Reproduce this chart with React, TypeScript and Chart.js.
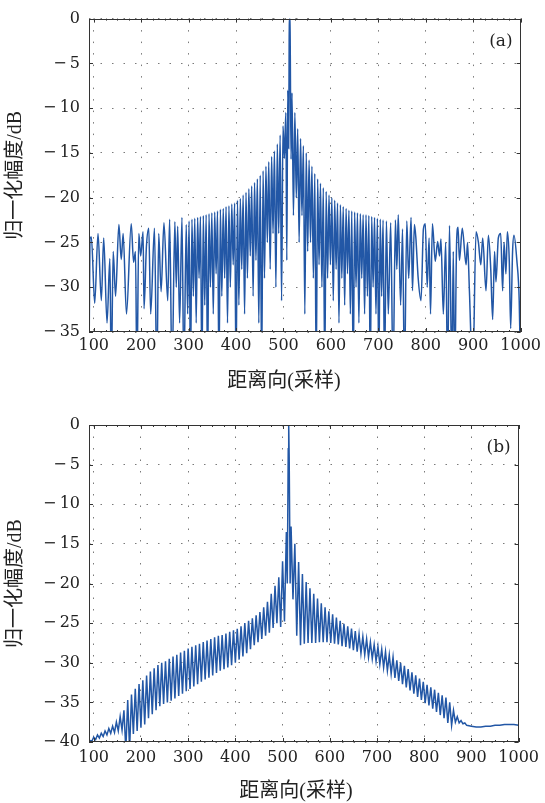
import React, { useEffect, useRef } from "react";
import { Chart, registerables } from "chart.js";

Chart.register(...registerables);

// ---------- data ----------
const xTicks = [100, 200, 300, 400, 500, 600, 700, 800, 900, 1000];
const yTicksA = [0, -5, -10, -15, -20, -25, -30, -35];
const yTicksB = [0, -5, -10, -15, -20, -25, -30, -35, -40];
const xTitle = "距离向(采样)";
const yTitle = "归一化幅度/dB";

// panel (a): range samples / normalized amplitude (dB)
const aX = [
  90, 92, 95, 102, 109, 116, 121, 128, 134, 137,
  141, 146, 153, 158, 162, 169, 179, 184, 188, 191,
  195, 199, 204, 206, 211, 216, 220, 228, 233, 237,
  242, 248, 256, 260, 265, 271, 274, 277, 281, 286,
  290, 295,
  298, 301, 304, 307, 310, 313, 316, 319, 322, 325,
  328, 331, 334, 337, 340, 343, 346, 349, 352, 355,
  358, 361, 364, 367, 370, 373, 376, 379, 382, 385,
  388, 391, 394, 397, 400, 403, 406, 409, 412, 415,
  418, 421, 424, 427, 430, 433, 436, 439, 442, 445,
  448, 451, 454, 457, 460, 463, 466, 469, 472, 475,
  478, 481, 484, 487, 490, 493, 496, 499, 502, 505,
  507, 509, 511,
  512, 513, 514, 516,
  518, 521, 524, 527, 530, 533, 536, 539, 542, 545,
  548, 551, 554, 557, 560, 563, 566, 569, 572, 575,
  578, 581, 584, 587, 590, 593, 596, 599, 602, 605,
  608, 611, 614, 617, 620, 623, 626, 629, 632, 635,
  638, 641, 644, 647, 650, 653, 656, 659, 662, 665,
  668, 671, 674, 677, 680, 683, 686, 689, 692, 695,
  698, 701, 704, 707, 710, 713,
  717, 721, 726, 731, 736, 739, 742, 747, 751, 755,
  760, 764, 769, 772, 776, 779, 784, 790, 795, 799,
  803, 807, 810, 814, 820, 825, 829, 832, 837, 842,
  846, 850, 855, 858, 861, 865, 868, 871, 877, 885,
  888, 892, 899, 906, 911, 916, 920, 927, 932, 937,
  941, 945, 948, 953, 958, 962, 965, 969, 972, 976,
  979, 983, 986, 992, 997, 1000,
];
const aY = [
  -40, -24.6, -24.4, -31.8, -24.0, -31.5, -24.5, -34.0, -26.8, -40,
  -26.0, -31.0, -23.0, -26.9, -24.0, -33.0, -22.9, -27.2, -26.0, -40,
  -24.0, -26.5, -23.8, -32.4, -25.5, -23.4, -33.0, -23.4, -40, -24.0,
  -30.5, -22.8, -31.5, -22.4, -40, -22.7, -30.0, -23.2, -34.0, -22.2,
  -40, -23.0,
  -33, -22.6, -40, -22.4, -31, -22.3, -34, -22.2, -29, -22.1,
  -40, -22.0, -32, -21.9, -40, -21.8, -30, -21.7, -33, -21.6,
  -28.5, -21.5, -40, -21.3, -31, -21.2, -29, -21.0, -34, -20.9,
  -30, -20.7, -27.5, -20.6, -40, -20.3, -32, -20.1, -28, -19.7,
  -33, -19.4, -29, -19.0, -26.5, -18.7, -31, -18.3, -27, -17.9,
  -34, -17.5, -40, -17.0, -29, -16.5, -25, -16.0, -28, -15.4,
  -24, -14.8, -30, -14.0, -24, -13.0, -31.5, -12.0, -15.6, -10.5,
  -27, -8.0, -14.5,
  -2.5, 0, -1.5, -15.7,
  -8.3, -22, -10.5, -20, -12.3, -25, -13.4, -22, -14.2, -33,
  -15.0, -26, -15.8, -25, -16.5, -29, -17.3, -40, -17.9, -27.5,
  -18.4, -30, -18.9, -40, -19.3, -29, -19.7, -27.5, -20.0, -31.5,
  -20.3, -28, -20.6, -34, -20.8, -29, -21.0, -32, -21.2, -28.5,
  -21.4, -33, -21.5, -40, -21.6, -30, -21.7, -34, -21.8, -29,
  -21.9, -33, -21.9, -31, -22.0, -40, -22.1, -30, -22.2, -33,
  -22.3, -40, -22.4, -31, -22.5, -40,
  -22.6, -33, -22.8, -40, -22.5, -28, -21.9, -32, -23.5, -40,
  -22.6, -29, -22.2, -30.4, -23.0, -24.4, -29, -31.5, -23.5, -22.9,
  -30, -24.5, -33, -22.9, -27.1, -24.9, -26.5, -24.6, -33, -25,
  -40, -23.1, -40, -26, -40, -25, -23.3, -27, -23.4, -27.5,
  -25, -30.4, -40, -23.8, -25, -27.5, -24.5, -30.4, -24.2, -28,
  -33.6, -26, -29.4, -24.5, -24.0, -30.4, -25, -28.5, -23.8, -27,
  -34.6, -26, -24.2, -27, -31.5, -40,
];

// panel (b)
const bX = [
  92, 96, 100, 104, 108, 112, 116, 120, 124, 128,
  132, 136, 140, 144, 148, 152, 156, 160, 164, 168,
  172, 176, 180, 184, 188, 192, 196, 200, 204, 208,
  212, 216, 220, 224, 228, 232, 236, 240, 244, 248,
  252, 256, 260, 264, 268, 272, 276, 280, 284, 288,
  292, 296, 300, 304, 308, 312, 316, 320, 324, 328,
  332, 336, 340, 344, 348, 352, 356, 360, 364, 368,
  372, 376, 380, 384, 388, 392, 396, 400, 404, 408,
  412, 416, 420, 424, 428, 432, 436, 440, 444, 448,
  452, 456, 460, 464, 468, 472, 476, 480, 484, 488,
  492, 496, 500, 504, 508, 510, 512, 513, 514, 516,
  518, 522, 526, 530, 534, 538, 542, 546, 550, 554,
  558, 562, 566, 570, 574, 578, 582, 586, 590, 594,
  598, 602, 606, 610, 614, 618, 622, 626, 630, 634,
  638, 642, 646, 650, 654, 658, 662, 666, 670, 674,
  678, 682, 686, 690, 694, 698, 702, 706, 710, 714,
  718, 722, 726, 730, 734, 738, 742, 746, 750, 754,
  758, 762, 766, 770, 774, 778, 782, 786, 790, 794,
  798, 802, 806, 810, 814, 818, 822, 826, 830, 834,
  838, 842, 846, 850, 854, 858, 862, 866, 870, 874,
  878, 882, 886, 890, 900, 910, 920, 930, 940, 950,
  960, 970, 980, 990, 1000,
];
const bY = [
  -39.8, -39.9, -39.4, -39.7, -39.1, -39.5, -38.9, -39.3, -38.6, -39.1,
  -38.3, -38.9, -38.0, -38.8, -37.5, -38.6, -36.8, -38.5, -36.0, -41,
  -34.7, -41, -34.0, -39.0, -33.3, -38.6, -32.7, -38.2, -32.2, -37.8,
  -31.6, -37.0, -31.1, -36.5, -30.7, -36.0, -30.3, -35.5, -30.0, -35.2,
  -29.8, -35.0, -29.5, -34.8, -29.2, -34.5, -29.0, -34.2, -28.7, -33.9,
  -28.5, -33.6, -28.2, -33.3, -28.0, -33.0, -27.8, -32.7, -27.6, -32.4,
  -27.4, -32.1, -27.2, -31.9, -27.0, -31.6, -26.8, -31.3, -26.6, -31.0,
  -26.5, -30.8, -26.3, -30.6, -26.1, -30.3, -25.9, -30.0, -25.7, -29.6,
  -25.4, -29.2, -25.0, -28.8, -24.7, -28.3, -24.4, -27.8, -24.0, -27.4,
  -23.6, -27.0, -23.0, -26.6, -22.3, -26.2, -21.3, -25.6, -20.3, -25.0,
  -19.2, -25.5, -17.2, -24.8, -13.5, -20, -3, 0, -4, -20,
  -12.8, -22, -15.0, -26.6, -17.3, -27.8, -18.8, -27.6, -19.8, -27.5,
  -20.6, -27.5, -21.3, -27.5, -21.9, -27.4, -22.5, -27.4, -23.0, -27.4,
  -23.5, -27.5, -23.9, -27.6, -24.3, -27.7, -24.7, -27.9, -25.1, -28.0,
  -25.4, -28.2, -25.7, -28.4, -26.0, -28.6, -26.4, -28.8, -26.7, -29.0,
  -27.0, -29.3, -27.4, -29.5, -27.7, -29.8, -28.0, -30.2, -28.3, -30.6,
  -28.6, -31.0, -29.0, -31.4, -29.3, -31.9, -29.7, -32.3, -30.0, -32.7,
  -30.4, -33.1, -30.8, -33.5, -31.2, -33.9, -31.6, -34.3, -32.0, -34.7,
  -32.4, -35.1, -32.8, -35.4, -33.1, -35.8, -33.4, -36.2, -33.8, -36.6,
  -34.1, -37.0, -34.4, -37.6, -35.0, -37.9, -36.0, -37.5, -36.8, -37.6,
  -37.3, -37.7, -37.6, -37.9, -38.0, -38.1, -38.1, -38.0, -38.0, -37.9,
  -37.9, -37.8, -37.8, -37.8, -37.9,
];

// ---------- styling ----------
const LINE_COLOR = "#2257a6";
const TEXT_COLOR = "#222";
const SERIF = '"DejaVu Serif", "Liberation Serif", serif';
const TITLE_FONT = '"Liberation Serif", "DejaVu Serif", "Noto Sans CJK SC", serif';

const fmtY = (v: number) => (v === 0 ? "0" : "\u2212\u2009" + Math.abs(v));

const framePlugin = {
  id: "frame",
  afterDatasetsDraw(chart: any, _args: any, opts: any) {
    const { ctx, chartArea: ca, scales } = chart;
    const xs = scales.x;
    const ys = scales.y;
    ctx.save();
    ctx.strokeStyle = "#333";
    ctx.lineWidth = 1;
    ctx.beginPath();
    const major = 4;
    const minor = 2;
    for (const v of opts.xMajor) {
      const p = Math.round(xs.getPixelForValue(v)) + 0.5;
      ctx.moveTo(p, ca.bottom); ctx.lineTo(p, ca.bottom - major);
      ctx.moveTo(p, ca.top); ctx.lineTo(p, ca.top + major);
    }
    for (let v = opts.xMinorStart; v <= xs.max; v += opts.xMinorStep) {
      const p = Math.round(xs.getPixelForValue(v)) + 0.5;
      ctx.moveTo(p, ca.bottom); ctx.lineTo(p, ca.bottom - minor);
      ctx.moveTo(p, ca.top); ctx.lineTo(p, ca.top + minor);
    }
    for (const v of opts.yMajor) {
      const p = Math.round(ys.getPixelForValue(v)) + 0.5;
      ctx.moveTo(ca.left, p); ctx.lineTo(ca.left + major, p);
      ctx.moveTo(ca.right, p); ctx.lineTo(ca.right - major, p);
    }
    ctx.stroke();
    ctx.strokeRect(Math.round(ca.left) + 0.5, Math.round(ca.top) + 0.5, Math.round(ca.width) - 1, Math.round(ca.height) - 1);
    ctx.fillStyle = TEXT_COLOR;
    ctx.font = "17px " + SERIF;
    ctx.textAlign = "right";
    ctx.textBaseline = "alphabetic";
    ctx.fillText(opts.label, ca.right - 8, ca.top + 27);
    // x-axis title
    ctx.font = "20px " + TITLE_FONT;
    ctx.textAlign = "center";
    ctx.textBaseline = "middle";
    ctx.fillText(opts.xTitle, opts.xTitleX, opts.xTitleY);
    ctx.restore();
  },
};

type PanelProps = {
  xs: number[];
  ys: number[];
  yTicks: number[];
  yMin: number;
  label: string;
  top: number;
  height: number;
  padTop: number;
  axisH: number;
  tickPad: number;
  titleX: number;
  titleY: number;
  smooth: boolean;
};

function Panel(p: PanelProps) {
  const ref = useRef<HTMLCanvasElement | null>(null);
  useEffect(() => {
    if (!ref.current) return;
    const chart = new Chart(ref.current, {
      type: "line",
      data: {
        datasets: [
          {
            data: p.xs.map((x, i) => ({ x, y: p.ys[i] })),
            borderColor: LINE_COLOR,
            borderWidth: 1.5,
            pointRadius: 0,
            tension: p.smooth ? 0.4 : 0,
            cubicInterpolationMode: p.smooth ? "monotone" : "default",
            fill: false,
          },
        ],
      },
      options: {
        animation: false,
        responsive: false,
        maintainAspectRatio: false,
        events: [],
        layout: { padding: { top: p.padTop, right: 23, left: 0, bottom: 0 } },
        plugins: {
          legend: { display: false },
          tooltip: { enabled: false },
          frame: {
            label: p.label,
            xMajor: xTicks,
            xMinorStart: 125,
            xMinorStep: 25,
            yMajor: p.yTicks,
            xTitle: xTitle,
            xTitleX: p.titleX,
            xTitleY: p.titleY,
          },
        } as any,
        scales: {
          x: {
            type: "linear",
            min: 90,
            max: 1000,
            afterBuildTicks: (s: any) => {
              s.ticks = xTicks.map((v) => ({ value: v }));
            },
            afterFit: (s: any) => {
              s.height = p.axisH;
            },
            grid: { color: "#7a7a7a", lineWidth: 1, drawTicks: false },
            border: { display: false, dash: [1.5, 10] },
            ticks: {
              padding: p.tickPad,
              color: TEXT_COLOR,
              font: { family: SERIF, size: 16 },
              maxRotation: 0,
              autoSkip: false,
              callback: (v: any) => String(v),
            },
            title: { display: false },
          },
          y: {
            type: "linear",
            min: p.yMin,
            max: 0,
            afterBuildTicks: (s: any) => {
              s.ticks = p.yTicks.map((v) => ({ value: v }));
            },
            afterFit: (s: any) => {
              s.width = 89;
            },
            grid: { color: "#7a7a7a", lineWidth: 1, drawTicks: false },
            border: { display: false, dash: [1.5, 10] },
            ticks: {
              padding: 9,
              color: TEXT_COLOR,
              font: { family: SERIF, size: 16 },
              autoSkip: false,
              callback: (v: any) => fmtY(Number(v)),
            },
            title: {
              display: true,
              text: yTitle,
              color: TEXT_COLOR,
              font: { family: TITLE_FONT, size: 20, lineHeight: 1 },
              padding: { top: 6, bottom: 0 },
            },
          },
        },
      },
      plugins: [framePlugin],
    } as any);
    return () => chart.destroy();
  }, []);
  return (
    <canvas
      ref={ref}
      width={545}
      height={p.height}
      style={{ position: "absolute", left: 0, top: p.top, width: 545, height: p.height }}
    />
  );
}

export default function App() {
  return (
    <div style={{ position: "fixed", left: 0, top: 0, width: 545, height: 803, background: "#fff" }}>
      <Panel xs={aX} ys={aY} yTicks={yTicksA} yMin={-35} label="(a)" top={0} height={400} padTop={14} axisH={68} tickPad={4} titleX={284} titleY={382} smooth={true} />
      <Panel xs={bX} ys={bY} yTicks={yTicksB} yMin={-40} label="(b)" top={400} height={403} padTop={25} axisH={61} tickPad={6} titleX={296} titleY={392} smooth={false} />
    </div>
  );
}
